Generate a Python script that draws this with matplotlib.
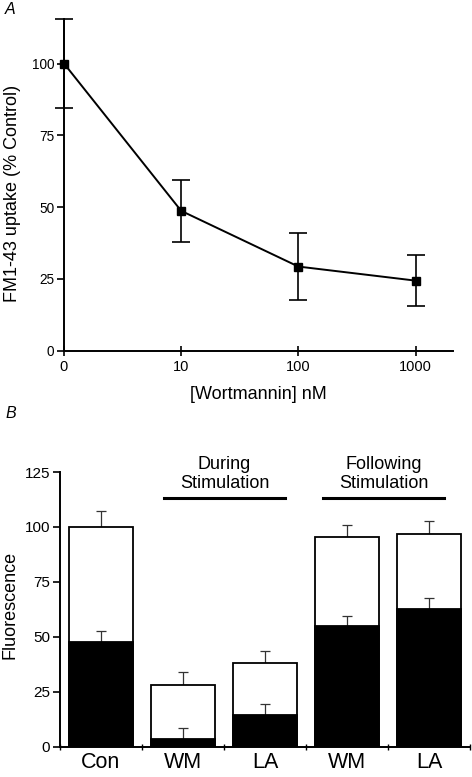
import matplotlib
matplotlib.use("Agg")
import matplotlib.pyplot as plt
import numpy as np

plt.rcParams['font.family'] = ['Liberation Sans', 'DejaVu Sans']

# Panel A data
conc_labels = ["0", "10", "100", "1000"]
uptake = [100, 48.7, 29.3, 24.4]
uptake_err = [15.4, 10.8, 11.6, 9.0]

# Panel B data
cond_labels = ["Con", "WM", "LA", "WM", "LA"]
total_vals = [100.1, 28.1, 38.2, 95.6, 96.7]
total_err = [7.2, 6.0, 5.4, 5.2, 5.9]
black_vals = [47.5, 3.4, 14.6, 55.1, 62.5]
black_err = [5.3, 5.2, 4.7, 4.3, 5.0]
group_labels = ["During\nStimulation", "Following\nStimulation"]

W, H = 472, 777
fig = plt.figure(figsize=(W / 100, H / 100), dpi=100)

# ---------- Panel A ----------
axA = fig.add_axes([64 / W, 1 - 350.7 / H, 389 / W, 331.7 / H])
x = np.arange(len(conc_labels))
axA.errorbar(x, uptake, yerr=uptake_err, color='black', lw=1.4, marker='s',
             ms=5.5, capsize=6.8, capthick=1.2, elinewidth=1.2, clip_on=False, zorder=3)
axA.set_xlim(0, 3.32)
axA.set_ylim(0, 115.5)
axA.set_xticks(x)
axA.set_xticklabels(conc_labels, fontsize=10.5)
axA.set_yticks([0, 25, 50, 75, 100])
axA.set_yticklabels(["0", "25", "50", "75", "100"], fontsize=9.8)
for s in ['top', 'right']:
    axA.spines[s].set_visible(False)
for s in ['left', 'bottom']:
    axA.spines[s].set_linewidth(1.4)
axA.tick_params(axis='y', direction='out', length=5, width=1.2, pad=2)
axA.tick_params(axis='x', direction='inout', length=7, width=1.2, pad=3)
axA.set_xlabel("[Wortmannin] nM", fontsize=13, labelpad=9)
axA.set_ylabel("FM1-43 uptake (% Control)", fontsize=13, va='center')
axA.yaxis.set_label_coords(-0.132, 0.474)
fig.text(5 / W, 1 - 9 / H, "A", fontsize=11.5, style='italic', va='center', ha='left')

# ---------- Panel B ----------
axB = fig.add_axes([60 / W, 1 - 746.7 / H, 410 / W, 274.7 / H])
xb = np.arange(len(cond_labels))
bw = 0.78
axB.bar(xb, total_vals, width=bw, color='white', edgecolor='black', lw=1.3, zorder=2)
axB.bar(xb, black_vals, width=bw, color='black', edgecolor='black', lw=1.3, zorder=3)
axB.errorbar(xb, total_vals, yerr=[np.zeros(len(xb)), total_err], fmt='none',
             ecolor='#333333', elinewidth=0.9, capsize=3.6, capthick=0.9, zorder=1)
axB.errorbar(xb, black_vals, yerr=[np.zeros(len(xb)), black_err], fmt='none',
             ecolor='#333333', elinewidth=0.9, capsize=3.6, capthick=0.9, zorder=2.5)
axB.set_xlim(-0.5, 4.5)
axB.set_ylim(0, 125)
axB.set_yticks([0, 25, 50, 75, 100, 125])
axB.set_yticklabels(["0", "25", "50", "75", "100", "125"], fontsize=11)
axB.set_xticks(np.arange(-0.5, 5.0, 1.0))
axB.set_xticklabels([])
axB.set_xticks(xb, minor=True)
axB.set_xticklabels(cond_labels, minor=True, fontsize=15.5)
axB.tick_params(axis='x', which='minor', length=0, pad=4)
axB.tick_params(axis='x', which='major', direction='inout', length=5, width=1.0)
axB.tick_params(axis='y', direction='out', length=5, width=1.2, pad=2)
for s in ['top', 'right']:
    axB.spines[s].set_visible(False)
for s in ['left', 'bottom']:
    axB.spines[s].set_linewidth(1.4)
axB.set_ylabel("Fluorescence", fontsize=13, va='center')
axB.yaxis.set_label_coords(-0.122, 0.516)

grp_pos = [(0.77, 2.24), (2.71, 4.18)]
for (x0, x1), lab in zip(grp_pos, group_labels):
    axB.plot([x0, x1], [113.3, 113.3], color='black', lw=2.2, clip_on=False)
    axB.text((x0 + x1) / 2, 116, lab, ha='center', va='bottom', fontsize=13,
             linespacing=1.1)
fig.text(5 / W, 1 - 413 / H, "B", fontsize=11.5, style='italic', va='center', ha='left')

fig.savefig("out.png", dpi=100)
